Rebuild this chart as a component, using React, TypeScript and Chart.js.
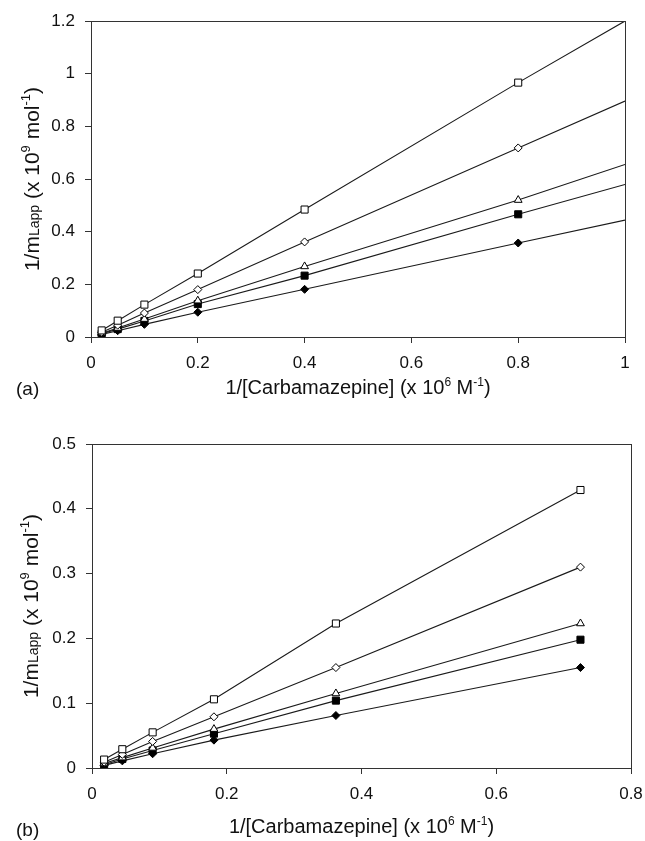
import React, { useEffect, useRef } from 'react';
import { Chart, registerables } from 'chart.js';

Chart.register(...registerables);

// ---------- Panel (a) data ----------
const xA = [0.02, 0.05, 0.1, 0.2, 0.4, 0.8];
const xAFitEnd = 1;
const aOpenSquare = [0.025, 0.062, 0.123, 0.241, 0.484, 0.966];
const aOpenDiamond = [0.018, 0.045, 0.091, 0.18, 0.361, 0.718];
const aTriangle = [0.014, 0.034, 0.068, 0.138, 0.268, 0.52];
const aFilledSquare = [0.012, 0.03, 0.061, 0.125, 0.233, 0.466];
const aFilledDiamond = [0.01, 0.024, 0.048, 0.094, 0.181, 0.357];
const aFitEnd = [1.2, 0.896, 0.655, 0.579, 0.444];
const aYTicks = [0, 0.2, 0.4, 0.6, 0.8, 1, 1.2];
const aXTicks = [0, 0.2, 0.4, 0.6, 0.8, 1];

// ---------- Panel (b) data ----------
const xB = [0.018, 0.045, 0.09, 0.181, 0.362, 0.725];
const bOpenSquare = [0.013, 0.029, 0.055, 0.106, 0.223, 0.429];
const bOpenDiamond = [0.009, 0.021, 0.041, 0.079, 0.155, 0.31];
const bTriangle = [0.007, 0.016, 0.031, 0.06, 0.115, 0.223];
const bFilledSquare = [0.005, 0.014, 0.027, 0.053, 0.104, 0.198];
const bFilledDiamond = [0.004, 0.011, 0.022, 0.043, 0.081, 0.155];
const bYTicks = [0, 0.1, 0.2, 0.3, 0.4, 0.5];
const bXTicks = [0, 0.2, 0.4, 0.6, 0.8];

const FONT = '"Liberation Sans", Arial, Helvetica, sans-serif';

type MarkerStyle = { pointStyle: string; fill: string; radius: number };
const markers: MarkerStyle[] = [
  { pointStyle: 'rect', fill: '#ffffff', radius: 5 },
  { pointStyle: 'rectRot', fill: '#ffffff', radius: 4 },
  { pointStyle: 'triangle', fill: '#ffffff', radius: 4.5 },
  { pointStyle: 'rect', fill: '#000000', radius: 5 },
  { pointStyle: 'rectRot', fill: '#000000', radius: 4 },
];

type Seg = { t: string; size: number; dy?: number };

function drawRich(ctx: CanvasRenderingContext2D, segs: Seg[], cx: number, cy: number, rot: number, baseSize: number) {
  ctx.save();
  ctx.translate(cx, cy);
  ctx.rotate(rot);
  const widths = segs.map((s) => {
    ctx.font = `${s.size}px ${FONT}`;
    return ctx.measureText(s.t).width;
  });
  const total = widths.reduce((a, b) => a + b, 0);
  let x = -total / 2;
  ctx.fillStyle = '#111';
  ctx.textBaseline = 'alphabetic';
  ctx.textAlign = 'left';
  const base = baseSize * 0.36;
  segs.forEach((s, i) => {
    ctx.font = `${s.size}px ${FONT}`;
    ctx.fillText(s.t, x, base + (s.dy || 0));
    x += widths[i];
  });
  ctx.restore();
}

function yTitleSegs(size: number): Seg[] {
  const small = Math.round(size * 0.68);
  const sup = Math.round(size * 0.6);
  return [
    { t: '1/m', size },
    { t: 'Lapp', size: small },
    { t: ' (x 10', size },
    { t: '9', size: sup, dy: -size * 0.42 },
    { t: ' mol', size },
    { t: '-1', size: sup, dy: -size * 0.42 },
    { t: ')', size },
  ];
}

function xTitleSegs(size: number): Seg[] {
  const sup = Math.round(size * 0.6);
  return [
    { t: '1/[Carbamazepine] (x 10', size },
    { t: '6', size: sup, dy: -size * 0.42 },
    { t: ' M', size },
    { t: '-1', size: sup, dy: -size * 0.42 },
    { t: ')', size },
  ];
}

type PanelCfg = {
  xs: number[];
  series: number[][];
  fitEnd?: number[];
  fitX?: number;
  xMax: number;
  yMax: number;
  xTicks: number[];
  yTicks: number[];
  height: number;
  top: number;
  right: number;
  left: number;
  bottom: number;
  xTitleY: number;
  yTitleX: number;
  panelLabel: string;
  panelLabelY: number;
};

function buildChart(canvas: HTMLCanvasElement, cfg: PanelCfg) {
  const datasets: any[] = [];
  cfg.series.forEach((vals, i) => {
    const m = markers[i];
    const pts = cfg.xs.map((x, j) => ({ x, y: vals[j] }));
    if (cfg.fitEnd) {
      datasets.push({
        data: [...pts, { x: cfg.fitX as number, y: cfg.fitEnd[i] }],
        showLine: true,
        borderColor: '#1a1a1a',
        borderWidth: 1.1,
        pointRadius: 0,
        pointHoverRadius: 0,
        fill: false,
        order: 2,
      });
      datasets.push({
        data: pts,
        showLine: false,
        pointStyle: m.pointStyle,
        pointRadius: m.radius,
        pointBackgroundColor: m.fill,
        pointBorderColor: '#000',
        pointBorderWidth: 1,
        order: 1,
      });
    } else {
      datasets.push({
        data: pts,
        showLine: true,
        borderColor: '#1a1a1a',
        borderWidth: 1.1,
        pointStyle: m.pointStyle,
        pointRadius: m.radius,
        pointBackgroundColor: m.fill,
        pointBorderColor: '#000',
        pointBorderWidth: 1,
        fill: false,
        order: 1,
      });
    }
  });

  const framePlugin = {
    id: 'frameAndTitles',
    afterDraw(chart: any) {
      const { ctx, chartArea } = chart;
      ctx.save();
      ctx.strokeStyle = '#333';
      ctx.lineWidth = 1;
      ctx.strokeRect(
        Math.round(chartArea.left) + 0.5,
        Math.round(chartArea.top) + 0.5,
        Math.round(chartArea.right - chartArea.left),
        Math.round(chartArea.bottom - chartArea.top)
      );
      ctx.restore();
      const cx = (chartArea.left + chartArea.right) / 2;
      const cy = (chartArea.top + chartArea.bottom) / 2;
      drawRich(ctx, xTitleSegs(20), cx, cfg.xTitleY, 0, 20);
      drawRich(ctx, yTitleSegs(21), cfg.yTitleX, cy, -Math.PI / 2, 21);
      ctx.save();
      ctx.font = `19px ${FONT}`;
      ctx.fillStyle = '#111';
      ctx.textAlign = 'left';
      ctx.textBaseline = 'middle';
      ctx.fillText(cfg.panelLabel, 16, cfg.panelLabelY);
      ctx.restore();
    },
  };

  const tickFont = { family: FONT, size: 17 };

  return new Chart(canvas, {
    type: 'scatter',
    data: { datasets },
    plugins: [framePlugin],
    options: {
      responsive: false,
      animation: false,
      devicePixelRatio: 1,
      events: [],
      layout: { padding: { left: 0, top: cfg.top, right: cfg.right, bottom: 0 } },
      plugins: { legend: { display: false }, tooltip: { enabled: false }, title: { display: false } },
      scales: {
        x: {
          type: 'linear',
          min: 0,
          max: cfg.xMax,
          afterFit: (s: any) => {
            s.height = cfg.bottom;
            s.paddingLeft = 0;
            s.paddingRight = 0;
          },
          afterBuildTicks: (s: any) => { s.ticks = cfg.xTicks.map((v) => ({ value: v })); },
          ticks: {
            font: tickFont,
            color: '#111',
            padding: 10,
            maxRotation: 0,
            autoSkip: false,
            callback: (v: any) => String(Number(v.toFixed ? v.toFixed(2) : v)),
          },
          grid: { display: true, drawOnChartArea: false, drawTicks: true, tickLength: 6, color: '#333', lineWidth: 1 },
          border: { display: true, color: '#333', width: 1 },
        },
        y: {
          type: 'linear',
          min: 0,
          max: cfg.yMax,
          afterFit: (s: any) => {
            s.width = cfg.left;
            s.paddingTop = 0;
            s.paddingBottom = 0;
          },
          afterBuildTicks: (s: any) => { s.ticks = cfg.yTicks.map((v) => ({ value: v })); },
          ticks: {
            font: tickFont,
            color: '#111',
            padding: 10,
            autoSkip: false,
            callback: (v: any) => String(Number(v.toFixed ? v.toFixed(2) : v)),
          },
          grid: { display: true, drawOnChartArea: false, drawTicks: true, tickLength: 6, color: '#333', lineWidth: 1 },
          border: { display: true, color: '#333', width: 1 },
        },
      },
    } as any,
  });
}

const panelA: PanelCfg = {
  xs: xA,
  series: [aOpenSquare, aOpenDiamond, aTriangle, aFilledSquare, aFilledDiamond],
  fitEnd: aFitEnd,
  fitX: xAFitEnd,
  xMax: 1,
  yMax: 1.2,
  xTicks: aXTicks,
  yTicks: aYTicks,
  height: 420,
  top: 21,
  right: 20,
  left: 91,
  bottom: 83,
  xTitleY: 387,
  yTitleX: 31,
  panelLabel: '(a)',
  panelLabelY: 390,
};

const panelB: PanelCfg = {
  xs: xB,
  series: [bOpenSquare, bOpenDiamond, bTriangle, bFilledSquare, bFilledDiamond],
  xMax: 0.8,
  yMax: 0.5,
  xTicks: bXTicks,
  yTicks: bYTicks,
  height: 421,
  top: 24,
  right: 14,
  left: 92,
  bottom: 73,
  xTitleY: 406,
  yTitleX: 30,
  panelLabel: '(b)',
  panelLabelY: 411,
};

function Panel({ cfg, top }: { cfg: PanelCfg; top: number }) {
  const ref = useRef<HTMLCanvasElement | null>(null);
  useEffect(() => {
    if (!ref.current) return;
    const chart = buildChart(ref.current, cfg);
    return () => chart.destroy();
  }, [cfg]);
  return (
    <canvas
      ref={ref}
      width={645}
      height={cfg.height}
      style={{ position: 'absolute', left: 0, top, width: 645, height: cfg.height, display: 'block' }}
    />
  );
}

export default function App() {
  return (
    <div style={{ position: 'absolute', left: 0, top: 0, width: 645, height: 841, background: '#fff', overflow: 'hidden' }}>
      <Panel cfg={panelA} top={0} />
      <Panel cfg={panelB} top={420} />
    </div>
  );
}
